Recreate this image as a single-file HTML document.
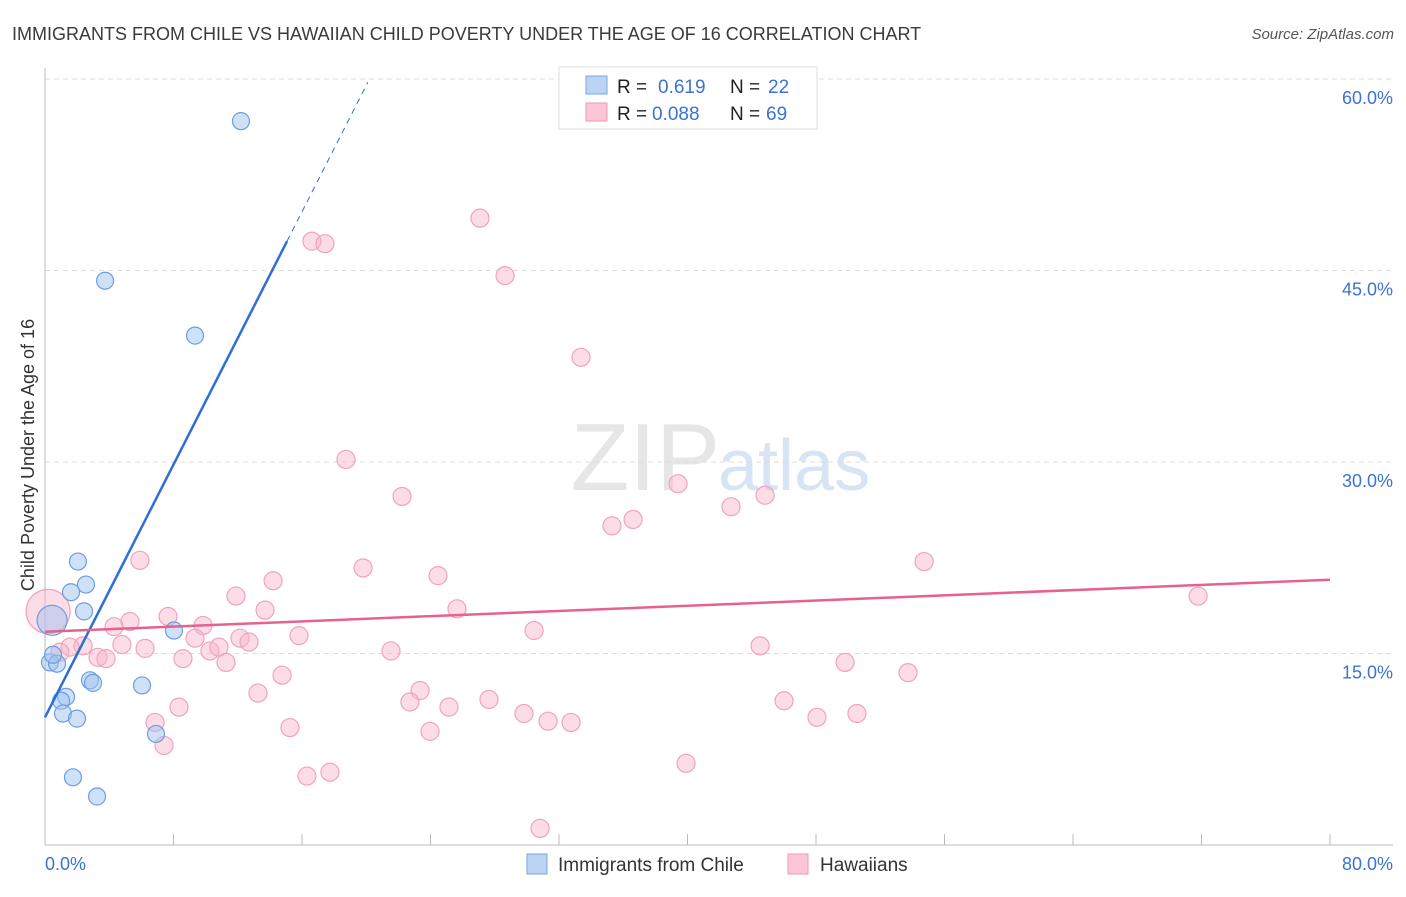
<!DOCTYPE html>
<html><head><meta charset="utf-8"><style>
body{margin:0;background:#fff;font-family:"Liberation Sans",sans-serif;}
svg text{font-family:"Liberation Sans",sans-serif;}
</style></head><body>
<svg id="chart" width="1406" height="892">
<text x="12" y="40" font-size="18" fill="#3a3a3a">IMMIGRANTS FROM CHILE VS HAWAIIAN CHILD POVERTY UNDER THE AGE OF 16 CORRELATION CHART</text>
<text x="1394" y="39" font-size="15" fill="#555" text-anchor="end" font-style="italic">Source: ZipAtlas.com</text>
<text x="720" y="490" font-size="96" fill="#e6e6e6" text-anchor="end" font-family="Liberation Serif">ZIP</text>
<text x="718" y="490" font-size="72" fill="#d6e4f4">atlas</text>
<text transform="translate(34,455) rotate(-90)" font-size="18" fill="#333" text-anchor="middle">Child Poverty Under the Age of 16</text>
<g id="grid"></g><g id="axes"></g><g id="pts"></g><g id="lines"></g>
<g>
<rect x="559" y="67" width="258" height="62" fill="#fff" stroke="#ddd"/>
<rect x="586" y="76" width="21" height="18" fill="#bcd4f4" stroke="#7aa6e0"/>
<rect x="586" y="103" width="21" height="18" fill="#fbc6d6" stroke="#ef9ab4"/>
<text x="617" y="93" font-size="19" fill="#222">R = <tspan x="658" fill="#3b73d1">0.619</tspan><tspan x="730" fill="#222">N = </tspan><tspan x="768" fill="#3b73d1">22</tspan></text>
<text x="617" y="120" font-size="19" fill="#222">R = <tspan x="652" fill="#3b73d1">0.088</tspan><tspan x="730" fill="#222">N = </tspan><tspan x="766" fill="#3b73d1">69</tspan></text>
</g>
<g>
<rect x="527" y="854" width="20" height="20" fill="#bcd4f4" stroke="#7aa6e0"/>
<text x="558" y="871" font-size="19" fill="#333">Immigrants from Chile</text>
<rect x="788" y="854" width="20" height="20" fill="#fbc6d6" stroke="#ef9ab4"/>
<text x="820" y="871" font-size="19" fill="#333">Hawaiians</text>
</g>
</svg>
<script>
const yTicks=[15,30,45,60];
const yTickLabels=["15.0%","30.0%","45.0%","60.0%"];
const xTicks=[0,8,16,24,32,40,48,56,64,72,80];
const chileX=[12.2,3.74,9.34,2.05,2.55,1.62,2.43,0.44,8.03,0.31,0.75,2.80,2.99,6.04,1.31,1.0,1.12,1.99,6.91,1.74,3.24,0.5];
const chileY=[56.7,44.2,39.9,22.2,20.4,19.8,18.3,17.6,16.8,14.3,14.2,12.9,12.7,12.5,11.6,11.3,10.3,9.9,8.7,5.3,3.8,14.9];
const hawX=[27.08,16.62,17.43,28.64,33.37,18.74,22.23,39.41,44.83,42.71,36.61,35.30,54.73,5.91,19.80,24.47,14.20,11.89,71.79,25.65,13.70,5.29,7.66,4.30,9.84,30.45,15.81,9.34,12.14,12.70,4.79,6.23,10.27,10.83,21.54,44.52,3.30,3.80,8.59,11.27,49.81,14.76,53.73,23.35,22.72,13.26,27.64,25.15,8.34,46.01,29.82,50.55,48.06,31.32,32.75,6.85,15.25,23.97,7.41,39.91,16.31,17.74,30.82,0.19,2.37,1.56,0.93];
const hawY=[49.1,47.3,47.1,44.6,38.2,30.2,27.3,28.3,27.4,26.5,25.5,25.0,22.2,22.3,21.7,21.1,20.7,19.5,19.5,18.5,18.4,17.5,17.9,17.1,17.2,16.8,16.4,16.2,16.2,15.9,15.7,15.4,15.2,15.5,15.2,15.6,14.7,14.6,14.6,14.3,14.3,13.3,13.5,12.1,11.2,11.9,11.4,10.8,10.8,11.3,10.3,10.3,10.0,9.7,9.6,9.6,9.2,8.9,7.8,6.4,5.4,5.7,1.3,18.3,15.6,15.5,15.1];
const chileTrend=[10.0,2.475];
const hawTrend=[16.7,0.051];
const X=v=>45+v*1285/80, Y=v=>845-v*191.5/15;
const NS="http://www.w3.org/2000/svg";
function mk(p,t,a){const e=document.createElementNS(NS,t);for(const k in a)e.setAttribute(k,a[k]);document.getElementById(p).appendChild(e);return e;}
yTicks.forEach((t,i)=>{
 const l=mk('grid','line',{x1:45,x2:1393,y1:Y(t),y2:Y(t),stroke:'#ddd','stroke-dasharray':'5,4'});
 
 
 const tx=mk('grid','text',{x:1393,y:Y(t)+25,'font-size':18,fill:'#3b73d1','text-anchor':'end'});
 tx.textContent=yTickLabels[i];
 
 
});
mk('axes','line',{x1:45,x2:45,y1:68,y2:845,stroke:'#bbb'});
mk('axes','line',{x1:45,x2:1393,y1:845,y2:845,stroke:'#bbb'});
xTicks.forEach(t=>{const l=mk('axes','line',{x1:X(t),x2:X(t),y1:834,y2:845,stroke:'#bbb'});
 
 });
const x0=mk('axes','text',{x:45,y:870,'font-size':18,fill:'#3b73d1'});x0.textContent='0.0%';


const x1=mk('axes','text',{x:1393,y:870,'font-size':18,fill:'#3b73d1','text-anchor':'end'});x1.textContent='80.0%';


hawX.forEach((v,i)=>{const r=(i===63)?22:9;const c=mk('pts','circle',{cx:X(v),cy:Y(hawY[i]),r:r,fill:'rgba(248,180,202,0.45)',stroke:'#f0a3bb','stroke-width':1.2});
 
 });
chileX.forEach((v,i)=>{const r=(i===7)?15:8.5;const c=mk('pts','circle',{cx:X(v),cy:Y(chileY[i]),r:r,fill:'rgba(160,196,240,0.5)',stroke:'#6c9ee0','stroke-width':1.2});
 
 });
const bl=mk('lines','line',{x1:X(0),y1:Y(chileTrend[0]),x2:X(15.07),y2:Y(chileTrend[0]+chileTrend[1]*15.07),stroke:'#2d6fd6','stroke-width':2.5});


const bd=mk('lines','line',{x1:X(15.07),y1:Y(chileTrend[0]+chileTrend[1]*15.07),x2:X(20.1),y2:Y(chileTrend[0]+chileTrend[1]*20.1),stroke:'#2d6fd6','stroke-width':1,'stroke-dasharray':'6,5'});


const pl=mk('lines','line',{x1:X(0),y1:Y(hawTrend[0]),x2:X(80),y2:Y(hawTrend[0]+hawTrend[1]*80),stroke:'#e8618c','stroke-width':2.5});


</script>
</body></html>
